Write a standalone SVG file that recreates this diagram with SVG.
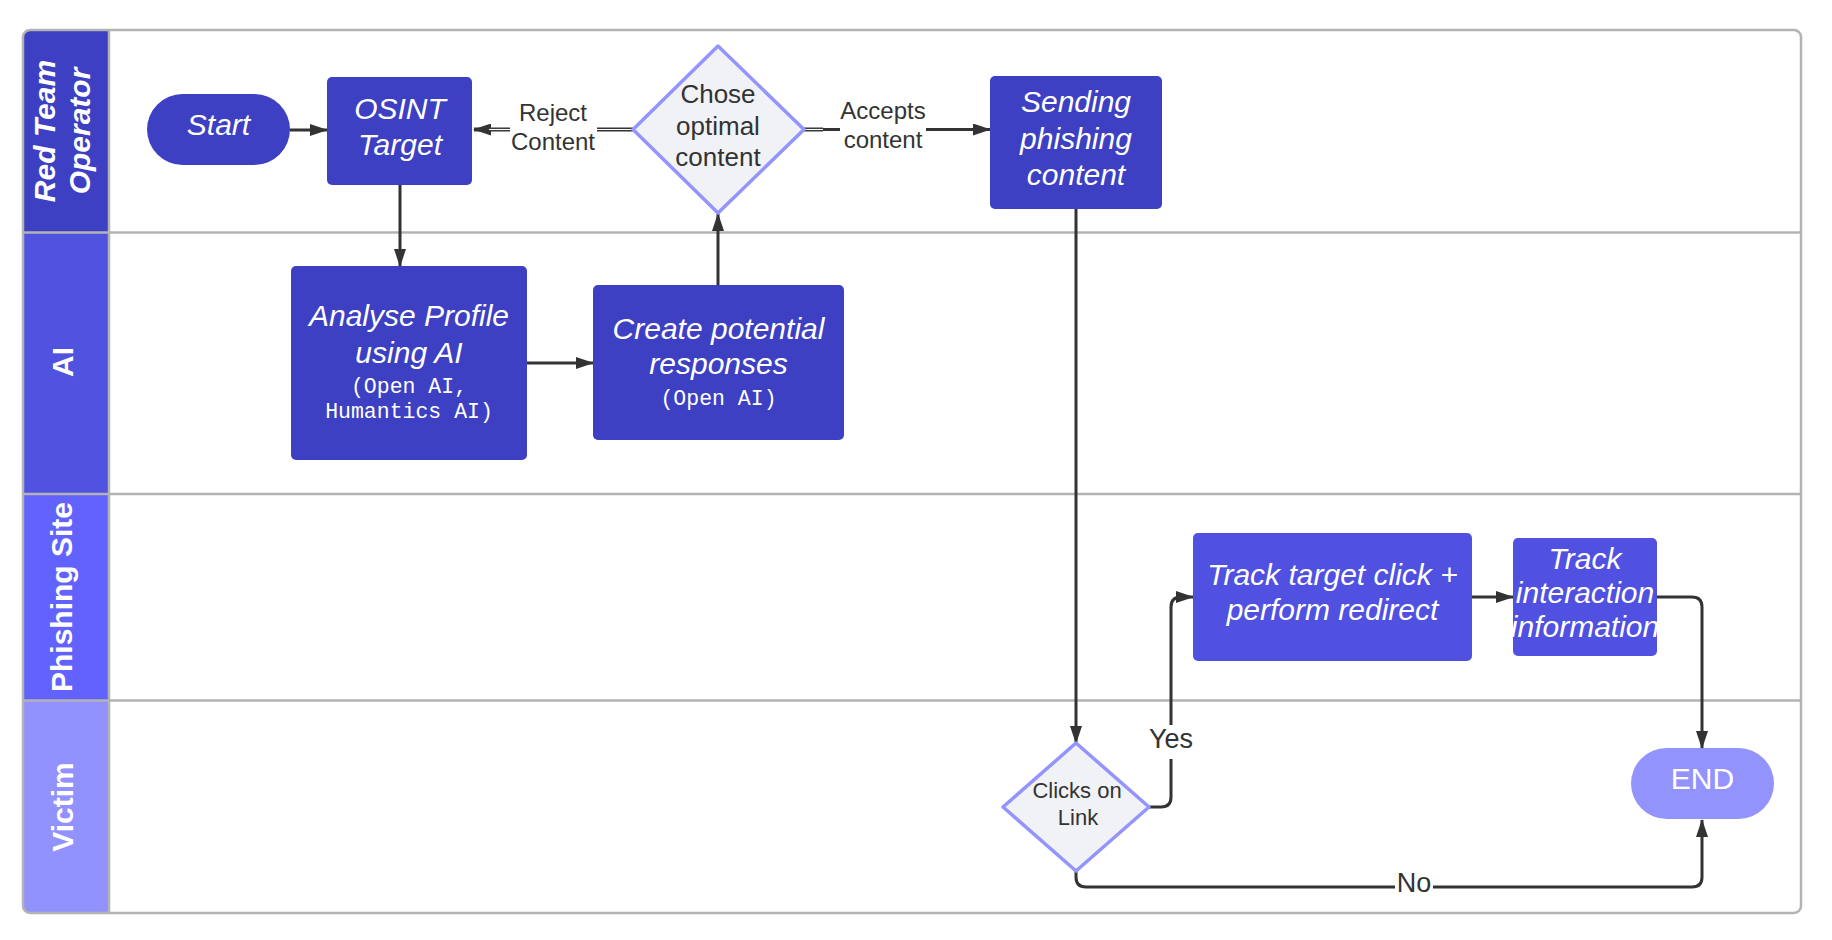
<svg xmlns="http://www.w3.org/2000/svg" width="1832" height="940" viewBox="0 0 1832 940">
<style>
.lane{stroke:#b3b3b3;stroke-width:2.5;fill:none}
.hdr{font-family:"Liberation Sans",Arial,sans-serif;font-size:30px;font-weight:bold;fill:#ffffff;text-anchor:middle}
.node{fill:#3d40c2}
.node2{fill:#5051e0}
.dia{fill:#f1f2f6;stroke:#9494ff;stroke-width:3.5;stroke-linejoin:round}
.t{font-family:"Liberation Sans",Arial,sans-serif;font-size:30px;font-style:italic;fill:#ffffff;text-anchor:middle}
.m{font-family:"Liberation Mono","Courier New",monospace;font-size:21.5px;fill:#ffffff;text-anchor:middle}
.d{font-family:"Liberation Sans",Arial,sans-serif;fill:#333333;text-anchor:middle}
.c{stroke:#333333;stroke-width:3;fill:none;stroke-linejoin:round}
.dbl{stroke:#333333;stroke-width:4;fill:none}
.dblw{stroke:#ffffff;stroke-width:1.1;fill:none}
</style>
<defs>
<clipPath id="frameClip"><rect x="23" y="30" width="1778" height="883" rx="7"/></clipPath>
<marker id="arr" markerUnits="userSpaceOnUse" markerWidth="18" markerHeight="12" refX="17" refY="6" orient="auto">
<path d="M0,0 L18,6 L0,12 z" fill="#333333"/>
</marker>
</defs>
<rect x="0" y="0" width="1832" height="940" fill="#ffffff"/>
<g id="pool">
<rect x="23" y="30" width="1778" height="883" rx="7" fill="#ffffff"/>
<g clip-path="url(#frameClip)">
<rect x="23" y="30" width="86" height="202" fill="#3d40c2"/>
<rect x="23" y="232" width="86" height="262" fill="#5052e0"/>
<rect x="23" y="494" width="86" height="206" fill="#6262ff"/>
<rect x="23" y="700" width="86" height="213" fill="#9292ff"/>
</g>
<line class="lane" x1="23" y1="232.5" x2="1801" y2="232.5"/>
<line class="lane" x1="23" y1="494" x2="1801" y2="494"/>
<line class="lane" x1="23" y1="700.5" x2="1801" y2="700.5"/>
<line class="lane" x1="109" y1="30" x2="109" y2="913"/>
<rect x="23" y="30" width="1778" height="883" rx="7" class="lane"/>
</g>
<g id="lane-red-team">
<text class="hdr" transform="rotate(-90)" font-style="italic"><tspan x="-131" y="55">Red Team</tspan><tspan x="-131" y="90">Operator</tspan></text>
</g>
<g id="lane-ai"><text class="hdr" transform="rotate(-90)" x="-362" y="73">AI</text></g>
<g id="lane-phishing"><text class="hdr" transform="rotate(-90)" x="-597" y="72">Phishing Site</text></g>
<g id="lane-victim"><text class="hdr" transform="rotate(-90)" x="-807" y="73">Victim</text></g>

<g id="connectors">
<path class="c" d="M290,130 L327,130" marker-end="url(#arr)"/>
<path class="c" d="M400,185 L400,266" marker-end="url(#arr)"/>
<path class="c" d="M527,363 L593,363" marker-end="url(#arr)"/>
<path class="c" d="M718,285 L718,214" marker-end="url(#arr)"/>
<path class="dbl" d="M510,129.5 L474,129.5" marker-end="url(#arr)"/>
<path class="dblw" d="M510,129.5 L489,129.5"/>
<path class="dbl" d="M597,129.5 L633,129.5"/>
<path class="dblw" d="M597,129.5 L633,129.5"/>
<text class="d" font-size="24"><tspan x="553" y="121">Reject</tspan><tspan x="553" y="150">Content</tspan></text>
<path class="dbl" d="M804,129.5 L823,129.5"/>
<path class="dblw" d="M804,129.5 L823,129.5"/>
<path class="c" d="M823,129.5 L840,129.5"/>
<path class="c" d="M926,129.5 L990,129.5" marker-end="url(#arr)"/>
<text class="d" font-size="24"><tspan x="883" y="119">Accepts</tspan><tspan x="883" y="148">content</tspan></text>
<path class="c" d="M1076,209 L1076,743" marker-end="url(#arr)"/>
<path class="c" d="M1149,807 L1161,807 Q1171,807 1171,797 L1171,759"/>
<path class="c" d="M1171,725 L1171,607 Q1171,597 1181,597 L1193,597" marker-end="url(#arr)"/>
<text class="d" font-size="27" x="1171" y="748">Yes</text>
<path class="c" d="M1472,597 L1513,597" marker-end="url(#arr)"/>
<path class="c" d="M1657,597 L1692,597 Q1702,597 1702,607 L1702,748" marker-end="url(#arr)"/>
<path class="c" d="M1076,871 L1076,877 Q1076,887 1086,887 L1395,887"/>
<path class="c" d="M1433,887 L1692,887 Q1702,887 1702,877 L1702,820" marker-end="url(#arr)"/>
<text class="d" font-size="27" x="1414" y="892">No</text>
</g>

<g id="start">
<rect class="node" x="147" y="94" width="143" height="71" rx="35.5"/>
<text class="t" x="218.5" y="135">Start</text>
</g>
<g id="osint">
<rect class="node" x="327" y="77" width="145" height="108" rx="5"/>
<text class="t"><tspan x="400" y="119">OSINT</tspan><tspan x="400" y="155">Target</tspan></text>
</g>
<g id="chose">
<polygon class="dia" points="718,46 804,129.5 718,213 633,129.5"/>
<text class="d" font-size="26"><tspan x="718" y="103">Chose</tspan><tspan x="718" y="135">optimal</tspan><tspan x="718" y="166">content</tspan></text>
</g>
<g id="sending">
<rect class="node" x="990" y="76" width="172" height="133" rx="5"/>
<text class="t"><tspan x="1076" y="112">Sending</tspan><tspan x="1076" y="148.5">phishing</tspan><tspan x="1076" y="185">content</tspan></text>
</g>
<g id="analyse">
<rect class="node" x="291" y="266" width="236" height="194" rx="5"/>
<text class="t"><tspan x="409" y="326">Analyse Profile</tspan><tspan x="409" y="363">using AI</tspan></text>
<text class="m"><tspan x="409" y="393">(Open AI,</tspan><tspan x="409" y="418">Humantics AI)</tspan></text>
</g>
<g id="create">
<rect class="node" x="593" y="285" width="251" height="155" rx="5"/>
<text class="t"><tspan x="718.5" y="338.5">Create potential</tspan><tspan x="718.5" y="373.5">responses</tspan></text>
<text class="m" x="718.5" y="405">(Open AI)</text>
</g>
<g id="track-click">
<rect class="node2" x="1193" y="533" width="279" height="128" rx="5"/>
<text class="t"><tspan x="1332.5" y="585">Track target click +</tspan><tspan x="1332.5" y="620">perform redirect</tspan></text>
</g>
<g id="track-interaction">
<rect class="node2" x="1513" y="538" width="144" height="118" rx="5"/>
<text class="t" font-size="27.5"><tspan x="1585" y="569">Track</tspan><tspan x="1585" y="603">interaction</tspan><tspan x="1585" y="637">information</tspan></text>
</g>
<g id="clicks">
<polygon class="dia" points="1076,743 1149,807 1076,871 1003,807"/>
<text class="d" font-size="22"><tspan x="1077" y="798">Clicks on</tspan><tspan x="1078" y="825">Link</tspan></text>
</g>
<g id="end">
<rect x="1631" y="748" width="143" height="71" rx="35.5" fill="#9393fd"/>
<text class="d" font-size="30" style="fill:#ffffff" x="1702.5" y="789">END</text>
</g>
</svg>
